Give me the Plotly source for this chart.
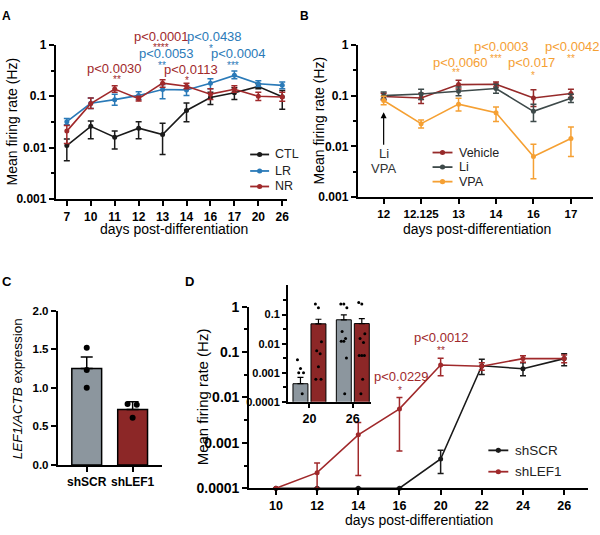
import math
import plotly.graph_objects as go

W, H = 600, 535
FONT = "Liberation Sans, Arial, sans-serif"

# ---------------- Panel A data ----------------
a_days = ["7", "10", "11", "12", "13", "14", "16", "17", "20", "26"]
a_ctl = [0.011, 0.026, 0.016, 0.024, 0.018, 0.053, 0.095, 0.117, 0.155, 0.098]
a_ctl_hi = [0.0148, 0.033, 0.021, 0.032, 0.030, 0.074, 0.12, 0.146, 0.175, 0.13]
a_ctl_lo = [0.0056, 0.015, 0.0094, 0.015, 0.0074, 0.032, 0.069, 0.087, 0.14, 0.056]
a_lr = [0.032, 0.073, 0.086, 0.104, 0.135, 0.133, 0.18, 0.255, 0.175, 0.163]
a_lr_hi = [0.037, 0.093, 0.11, 0.123, 0.17, 0.16, 0.22, 0.31, 0.2, 0.19]
a_lr_lo = [0.028, 0.058, 0.067, 0.087, 0.09, 0.104, 0.14, 0.22, 0.155, 0.14]
a_nr = [0.021, 0.072, 0.138, 0.09, 0.18, 0.157, 0.11, 0.137, 0.10, 0.097]
a_nr_hi = [0.027, 0.093, 0.16, 0.10, 0.21, 0.18, 0.14, 0.16, 0.12, 0.12]
a_nr_lo = [0.012, 0.058, 0.12, 0.081, 0.15, 0.14, 0.087, 0.12, 0.083, 0.08]

# ---------------- Panel B data ----------------
b_days = ["12", "12.125", "13", "14", "16", "17"]
b_veh = [0.096, 0.09, 0.165, 0.167, 0.09, 0.11]
b_veh_hi = [0.112, 0.112, 0.2, 0.185, 0.13, 0.133]
b_veh_lo = [0.082, 0.07, 0.135, 0.148, 0.061, 0.092]
b_li = [0.10, 0.108, 0.122, 0.138, 0.049, 0.089]
b_li_hi = [0.118, 0.133, 0.148, 0.168, 0.068, 0.107]
b_li_lo = [0.086, 0.084, 0.1, 0.112, 0.031, 0.073]
b_vpa = [0.08, 0.028, 0.068, 0.046, 0.0063, 0.0143]
b_vpa_hi = [0.097, 0.033, 0.089, 0.06, 0.011, 0.024]
b_vpa_lo = [0.066, 0.023, 0.05, 0.031, 0.0023, 0.0063]
b_arrow_tip = 0.047   # arrow marking Li / VPA addition at day 12

# ---------------- Panel C data ----------------
c_groups = ["shSCR", "shLEF1"]
c_mean = [1.25, 0.72]
c_sem = [0.15, 0.10]
c_pts_scr = [1.52, 1.23, 1.0]
c_pts_lef = [0.79, 0.78, 0.61]

# ---------------- Panel D data ----------------
d_days = ["10", "12", "14", "16", "20", "22", "24", "26"]
d_scr = [0.0001, 0.0001, 0.0001, 0.0001, 0.00044, 0.05, 0.043, 0.072]
d_scr_hi = [0.0001, 0.0001, 0.0001, 0.0001, 0.00069, 0.07, 0.058, 0.092]
d_scr_lo = [0.0001, 0.0001, 0.0001, 0.0001, 0.00021, 0.032, 0.030, 0.05]
d_lef = [0.0001, 0.00022, 0.0015, 0.0056, 0.052, 0.049, 0.072, 0.072]
d_lef_hi = [0.0001, 0.00036, 0.0028, 0.010, 0.073, 0.058, 0.083, 0.087]
d_lef_lo = [0.0001, 0.0001, 0.00019, 0.00066, 0.030, 0.040, 0.060, 0.058]

# inset
i_days = ["20", "26"]
i_scr = [0.00042, 0.066]
i_scr_hi = [0.00069, 0.097]
i_lef = [0.048, 0.049]
i_lef_hi = [0.069, 0.072]
i_pts_scr_20 = [0.0028, 0.0014, 0.0010, 0.0010, 0.00019]
i_pts_lef_20 = [0.23, 0.17, 0.0116, 0.0057, 0.0045, 0.0016, 0.0006, 0.0006]
i_pts_scr_26 = [0.23, 0.23, 0.17, 0.026, 0.015, 0.012, 0.012, 0.0032, 0.00019]
i_pts_lef_26 = [0.26, 0.23, 0.022, 0.015, 0.011, 0.0039, 0.0039, 0.0039, 0.0006, 0.00019]

# ---------------- colors ----------------
C_BLACK = "#1a1a1a"
C_BLUE = "#2a7ab8"
C_RED = "#a0292b"
C_VEH = "#962a2a"
C_LI = "#3e4a4a"
C_ORANGE = "#f5a033"
C_GREYBAR = "#8c969e"
C_REDBAR = "#8c2727"


def px_x(p):
    return p / W


def px_y(p):
    return 1 - p / H


def errs(mean, hi, lo):
    return dict(type="data", symmetric=False,
                array=[h - m for h, m in zip(hi, mean)],
                arrayminus=[m - l for m, l in zip(mean, lo)])


fig = go.Figure()


def line_trace(x, y, hi, lo, color, name, xa, ya):
    e = errs(y, hi, lo)
    e.update(color=color, thickness=1.5, width=3)
    fig.add_trace(go.Scatter(
        x=x, y=y, mode="lines+markers", name=name,
        line=dict(color=color, width=1.6),
        marker=dict(color=color, size=5),
        error_y=e, xaxis=xa, yaxis=ya,
        showlegend=False, cliponaxis=False))


# Panel A
line_trace(a_days, a_ctl, a_ctl_hi, a_ctl_lo, C_BLACK, "CTL", "x", "y")
line_trace(a_days, a_lr, a_lr_hi, a_lr_lo, C_BLUE, "LR", "x", "y")
line_trace(a_days, a_nr, a_nr_hi, a_nr_lo, C_RED, "NR", "x", "y")

# Panel B
line_trace(b_days, b_veh, b_veh_hi, b_veh_lo, C_VEH, "Vehicle", "x2", "y2")
line_trace(b_days, b_li, b_li_hi, b_li_lo, C_LI, "Li", "x2", "y2")
line_trace(b_days, b_vpa, b_vpa_hi, b_vpa_lo, C_ORANGE, "VPA", "x2", "y2")

# Panel C (numeric positions = group index)
c_x = list(range(len(c_groups)))
fig.add_trace(go.Bar(
    x=c_x, y=c_mean, width=0.65,
    marker=dict(color=[C_GREYBAR, C_REDBAR], line=dict(color="black", width=1.5)),
    error_y=dict(type="data", symmetric=False, array=c_sem, arrayminus=[0, 0],
                 color="black", thickness=1.5, width=6),
    xaxis="x3", yaxis="y3", showlegend=False))
jit3 = [0.0, 0.0, 0.0]
jit3b = [-0.11, 0.09, 0.0]
fig.add_trace(go.Scatter(
    x=[c_x[0] + j for j in jit3] + [c_x[1] + j for j in jit3b],
    y=c_pts_scr + c_pts_lef, mode="markers",
    marker=dict(color="black", size=6), xaxis="x3", yaxis="y3", showlegend=False))

# Panel D
line_trace(d_days, d_scr, d_scr_hi, d_scr_lo, C_BLACK, "shSCR", "x4", "y4")
line_trace(d_days, d_lef, d_lef_hi, d_lef_lo, C_RED, "shLEF1", "x4", "y4")

# Inset (group index 0,1 ; bars offset within group)
i_x = list(range(len(i_days)))
BW = 0.345
fig.add_trace(go.Bar(
    x=i_x, y=i_scr, width=BW, offset=-0.38,
    marker=dict(color=C_GREYBAR, line=dict(color="black", width=1)),
    error_y=dict(type="data", symmetric=False,
                 array=[h - m for h, m in zip(i_scr_hi, i_scr)], arrayminus=[0, 0],
                 color="black", thickness=1.2, width=3),
    xaxis="x5", yaxis="y5", showlegend=False))
fig.add_trace(go.Bar(
    x=i_x, y=i_lef, width=BW, offset=0.035,
    marker=dict(color=C_REDBAR, line=dict(color="black", width=1)),
    error_y=dict(type="data", symmetric=False,
                 array=[h - m for h, m in zip(i_lef_hi, i_lef)], arrayminus=[0, 0],
                 color="black", thickness=1.2, width=3),
    xaxis="x5", yaxis="y5", showlegend=False))

jit = [-0.07, 0.0, 0.07, -0.04, 0.04, 0.0, -0.06, 0.06, 0.02, -0.02]


def dots(center, vals):
    return [center + jit[k % len(jit)] for k in range(len(vals))]


dx = dots(i_x[0] - 0.207, i_pts_scr_20) + dots(i_x[0] + 0.207, i_pts_lef_20) + \
    dots(i_x[1] - 0.207, i_pts_scr_26) + dots(i_x[1] + 0.207, i_pts_lef_26)
dy = i_pts_scr_20 + i_pts_lef_20 + i_pts_scr_26 + i_pts_lef_26
fig.add_trace(go.Scatter(x=dx, y=dy, mode="markers",
                         marker=dict(color="black", size=3),
                         xaxis="x5", yaxis="y5", showlegend=False))

# ---------------- axes ----------------
axline = dict(showline=True, linewidth=2, linecolor="black", ticks="outside",
              tickwidth=1.5, tickcolor="black", showgrid=False, zeroline=False,
              mirror=False)


def logy(domain_px, anchor, size, rng=(-3, 0), vals=(0.001, 0.01, 0.1, 1),
         txt=("0.001", "0.01", "0.1", "1"), ticklen=5):
    lo, hi = rng
    minor_vals = [10 ** (k + 0.5) for k in range(int(lo), int(hi))]
    return dict(axline, type="log", range=list(rng), anchor=anchor,
                domain=[px_y(domain_px[0]), px_y(domain_px[1])],
                tickvals=list(vals), ticktext=list(txt), ticklen=ticklen,
                tickfont=dict(family=FONT, size=size, color="black", weight="bold"),
                minor=dict(tickvals=minor_vals, ticks="outside", ticklen=3,
                           tickwidth=1.5, tickcolor="black"))


fig.update_layout(
    xaxis=dict(axline, type="category", range=[-0.46, 9.2], anchor="y",
               domain=[px_x(56), px_x(288)], ticklen=5,
               tickfont=dict(family=FONT, size=12, color="black", weight="bold")),
    yaxis=logy((197, 38), "x", 12),
    xaxis2=dict(axline, type="category", range=[-0.69, 5.59], anchor="y2",
                domain=[px_x(359), px_x(595)], ticklen=5,
                tickfont=dict(family=FONT, size=11.5, color="black", weight="bold")),
    yaxis2=logy((195, 38), "x2", 12),
    xaxis3=dict(axline, range=[-0.63, 1.65], anchor="y3",
                domain=[px_x(58), px_x(163)], ticklen=5,
                tickvals=c_x, ticktext=c_groups,
                tickfont=dict(family=FONT, size=12, color="black", weight="bold")),
    yaxis3=dict(axline, range=[0, 2], anchor="x3", domain=[px_y(471), px_y(312)],
                tickvals=[0, 0.5, 1.0, 1.5, 2.0],
                ticktext=["0.0", "0.5", "1.0", "1.5", "2.0"], ticklen=5,
                tickfont=dict(family=FONT, size=11.5, color="black", weight="bold")),
    xaxis4=dict(axline, type="category", range=[-0.65, 7.58], anchor="y4",
                domain=[px_x(250), px_x(590)], ticklen=5,
                tickfont=dict(family=FONT, size=12.5, color="black", weight="bold")),
    yaxis4=logy((495, 308), "x4", 14, rng=(-4, 0),
                vals=(0.0001, 0.001, 0.01, 0.1, 1),
                txt=("0.0001", "0.001", "0.01", "0.1", "1")),
    xaxis5=dict(axline, range=[-0.494, 1.414], anchor="y5",
                domain=[px_x(289), px_x(372)], ticklen=4,
                tickvals=i_x, ticktext=i_days,
                tickfont=dict(family=FONT, size=12.5, color="black", weight="bold")),
    yaxis5=logy((406, 286), "x5", 11, rng=(-4, 0),
                vals=(0.0001, 0.001, 0.01, 0.1),
                txt=("0.0001", "0.001", "0.01", "0.1"), ticklen=4),
)
fig.update_layout(barmode="overlay")

# ---------------- annotations ----------------
ann = []
shapes = []


def text(xp, yp, s, size=13, color="black", bold=False, angle=0, xanchor="center"):
    ann.append(dict(x=px_x(xp), y=px_y(yp), xref="paper", yref="paper", text=s,
                    showarrow=False, textangle=angle, xanchor=xanchor, yanchor="middle",
                    font=dict(family=FONT, size=size, color=color,
                              weight="bold" if bold else "normal")))


# manual legends: (line x0, line x1, text x, [(y, label, color)], font size)
legends = [
    (251, 270, 274, [(151, "CTL", C_BLACK), (168, "LR", C_BLUE), (184, "NR", C_RED)], 12.5),
    (434, 454, 459, [(149, "Vehicle", C_VEH), (164, "Li", C_LI), (179, "VPA", C_ORANGE)], 12.5),
    (490, 510, 515, [(456, "shSCR", C_BLACK), (478, "shLEF1", C_RED)], 13.5),
]
for x0, x1, xt, items, fs in legends:
    for yp, lab, col in items:
        shapes.append(dict(type="line", xref="paper", yref="paper",
                           x0=px_x(x0), x1=px_x(x1), y0=px_y(yp), y1=px_y(yp),
                           line=dict(color=col, width=1.8)))
        xm = (x0 + x1) / 2
        shapes.append(dict(type="circle", xref="paper", yref="paper",
                           x0=px_x(xm - 2.6), x1=px_x(xm + 2.6),
                           y0=px_y(yp + 2.6), y1=px_y(yp - 2.6),
                           fillcolor=col, line=dict(color=col, width=0)))
        text(xt, yp, lab, fs, "#222", xanchor="left")

# panel letters
text(7, 8, "A", 12, bold=True)
text(306, 8, "B", 12, bold=True)
text(7, 282, "C", 13, bold=True)
text(190, 282, "D", 13, bold=True)

# axis titles
text(12, 117, "Mean firing rate (Hz)", 14, angle=-90)
text(175, 228, "days post-differentiation", 14)
text(320, 116, "Mean firing rate (Hz)", 14, angle=-90)
text(479, 228, "days post-differentiation", 14)
text(17, 392, "<i>LEF1/ACTB</i> expression", 13.5, angle=-90)
text(203, 401, "Mean firing rate (Hz)", 15, angle=-90)
text(420, 528, "days post-differentiation", 14)

STAR_DY = 3  # asterisks sit high in their text box


def sig(items):
    for xp, yp, s, c in items:
        if s.startswith("p"):
            text(xp, yp, s, 13, c)
        else:
            text(xp, yp + STAR_DY, s, 10, c)


sig([(162, 29, "p<0.0001", C_RED), (162, 38, "****", C_RED),
     (215, 29, "p<0.0438", C_BLUE), (212, 39, "*", C_BLUE),
     (167, 47, "p<0.0053", C_BLUE), (163, 56, "**", C_BLUE),
     (239, 47, "p<0.0004", C_BLUE), (234, 56, "***", C_BLUE),
     (115, 62, "p<0.0030", C_RED), (117, 71, "**", C_RED),
     (192, 63, "p<0.0113", C_RED), (188, 72, "*", C_RED)])
sig([(503, 40, "p<0.0003", C_ORANGE), (498, 49, "***", C_ORANGE),
     (462, 56, "p<0.0060", C_ORANGE), (458, 64, "**", C_ORANGE),
     (533, 56, "p<0.017", C_ORANGE), (535, 67, "*", C_ORANGE),
     (574, 40, "p<0.0042", C_ORANGE), (573, 49, "**", C_ORANGE)])
sig([(403, 380, "p<0.0229", C_RED), (401, 391, "*", C_RED),
     (443, 340, "p<0.0012", C_RED), (442, 350, "**", C_RED)])

# arrow Li / VPA (log axis -> annotation y in log10 units)
ann.append(dict(x=0, y=math.log10(b_arrow_tip), xref="x2", yref="y2", ax=0, ay=34,
                text="", showarrow=True, arrowhead=2, arrowsize=1, arrowwidth=1.2,
                arrowcolor="black"))
text(385, 150, "Li", 13, "#333")
text(385, 165, "VPA", 13, "#333")

fig.update_layout(
    annotations=ann, shapes=shapes,
    width=W, height=H, margin=dict(l=0, r=0, t=0, b=0),
    paper_bgcolor="white", plot_bgcolor="rgba(0,0,0,0)",
    font=dict(family=FONT),
)

fig.write_html("out.html", config={"displayModeBar": False, "responsive": False},
               post_script="document.body.style.margin='0';"
                           "document.documentElement.style.overflow='hidden';")
